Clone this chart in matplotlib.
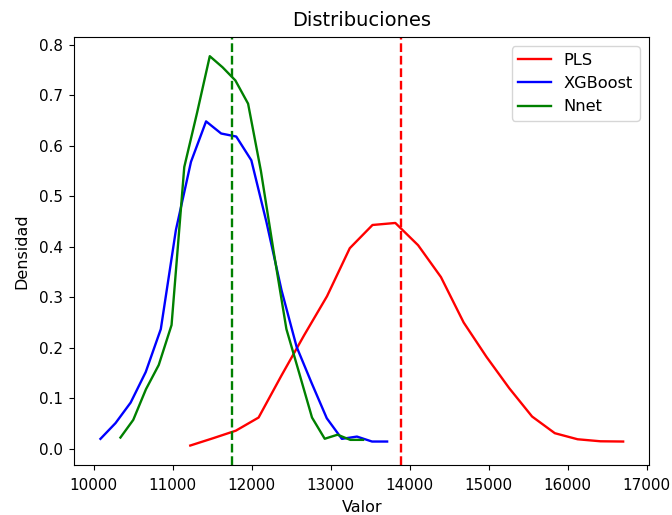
import matplotlib
matplotlib.use("Agg")
import matplotlib.pyplot as plt

# Density curves for each model (bin centres and density values)
pls_x = [11222, 11510, 11799, 12087, 12376, 12664, 12953, 13241, 13529, 13818,
         14106, 14395, 14683, 14972, 15260, 15549, 15837, 16125, 16414, 16702]
pls_y = [0.0066, 0.021, 0.036, 0.062, 0.145, 0.225, 0.302, 0.397, 0.443, 0.447,
         0.403, 0.340, 0.250, 0.182, 0.120, 0.064, 0.031, 0.019, 0.015, 0.0145]

xgb_x = [10085, 10276, 10467, 10658, 10849, 11040, 11231, 11422, 11613, 11804,
         11995, 12186, 12377, 12568, 12759, 12950, 13141, 13332, 13523, 13714]
xgb_y = [0.0198, 0.051, 0.0915, 0.152, 0.237, 0.433, 0.568, 0.648, 0.624, 0.618,
         0.571, 0.449, 0.314, 0.202, 0.130, 0.0606, 0.0198, 0.0243, 0.0145, 0.0145]

nnet_x = [10338, 10500, 10661, 10823, 10985, 11146, 11308, 11469, 11631, 11793,
          11954, 12116, 12278, 12439, 12601, 12763, 12924, 13086, 13248, 13409]
nnet_y = [0.0224, 0.0573, 0.118, 0.166, 0.245, 0.5577, 0.665, 0.777, 0.755, 0.729,
          0.683, 0.55, 0.39, 0.237, 0.150, 0.062, 0.020, 0.028, 0.0178, 0.0178]

# Reference values marked with dashed vertical lines
pls_mark = 13894
nnet_mark = 11747

plt.rcParams["xtick.major.size"] = 3.8
plt.rcParams["ytick.major.size"] = 3.8

fig = plt.figure(figsize=(6.72, 5.15), dpi=100)
ax = fig.add_subplot(111)
fig.subplots_adjust(left=0.1106, right=0.9662, top=0.9287, bottom=0.0971)

lw = 1.7
ax.plot(pls_x, pls_y, color="red", label="PLS", lw=lw)
ax.plot(xgb_x, xgb_y, color="blue", label="XGBoost", lw=lw)
ax.plot(nnet_x, nnet_y, color="green", label="Nnet", lw=lw)

ax.axvline(pls_mark, color="red", linestyle="--", lw=lw)
ax.axvline(nnet_mark, color="green", linestyle="--", lw=lw)

ax.tick_params(axis="x", labelsize=10.9, pad=5.5)
ax.tick_params(axis="y", labelsize=10.9, pad=4.5)
ax.set_title("Distribuciones", fontsize=14, pad=8)
ax.set_xlabel("Valor", fontsize=11.5, labelpad=5)
ax.set_ylabel("Densidad", fontsize=11.5, labelpad=7)
ax.legend(loc="upper right", fontsize=11.7, borderaxespad=0.6)

fig.savefig("out.png", dpi=100)
